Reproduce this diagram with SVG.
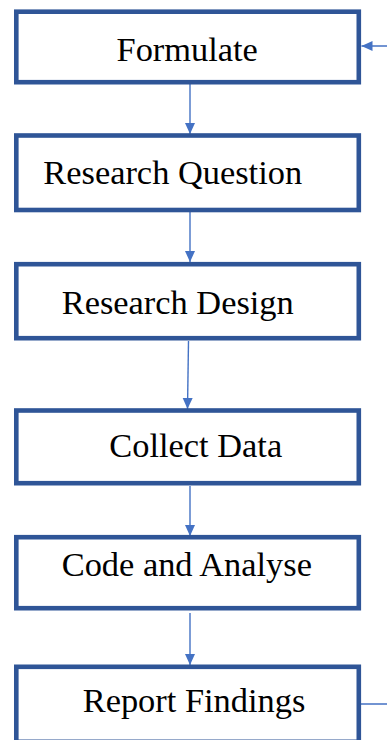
<svg xmlns="http://www.w3.org/2000/svg" width="387" height="740" viewBox="0 0 387 740">
<style>
.box{fill:#ffffff;stroke:#2F5597;stroke-width:4.6}
.lbl{font-family:"Liberation Serif","Times New Roman",serif;font-size:34.4px;fill:#000000}
.con{fill:none;stroke:#4472C4;stroke-width:1.4}
</style>
<defs>
<marker id="arr" markerUnits="userSpaceOnUse" markerWidth="12" markerHeight="11" refX="11" refY="5" orient="auto">
<path d="M0,0 L11,5 L0,10 z" fill="#4472C4"/>
</marker>
</defs>
<rect width="387" height="740" fill="#ffffff"/>
<g id="connectors">
<path class="con" d="M190,84 V134" marker-end="url(#arr)"/>
<path class="con" d="M190,212 V262" marker-end="url(#arr)"/>
<path class="con" d="M188.5,341 L187.5,409" marker-end="url(#arr)"/>
<path class="con" d="M190,486 V536" marker-end="url(#arr)"/>
<path class="con" d="M190,613 V665" marker-end="url(#arr)"/>
<path class="con" d="M361,704 H395 V46 H361.5" marker-end="url(#arr)"/>
</g>
<g id="formulate">
<rect class="box" x="16.3" y="11.7" width="342.5" height="70.5"/>
<text class="lbl" x="116.5" y="61">Formulate</text>
</g>
<g id="research-question">
<rect class="box" x="16.3" y="135.5" width="342.5" height="74.5"/>
<text class="lbl" x="43.3" y="184">Research Question</text>
</g>
<g id="research-design">
<rect class="box" x="16.3" y="264.2" width="342.5" height="74"/>
<text class="lbl" x="61.7" y="314">Research Design</text>
</g>
<g id="collect-data">
<rect class="box" x="16.3" y="410.5" width="342.5" height="72.7"/>
<text class="lbl" x="109.3" y="456.5">Collect Data</text>
</g>
<g id="code-and-analyse">
<rect class="box" x="16.3" y="537.2" width="342.5" height="71"/>
<text class="lbl" x="61.7" y="576">Code and Analyse</text>
</g>
<g id="report-findings">
<rect class="box" x="16.3" y="666.8" width="342.5" height="75"/>
<text class="lbl" x="82.7" y="711.5">Report Findings</text>
</g>
</svg>
